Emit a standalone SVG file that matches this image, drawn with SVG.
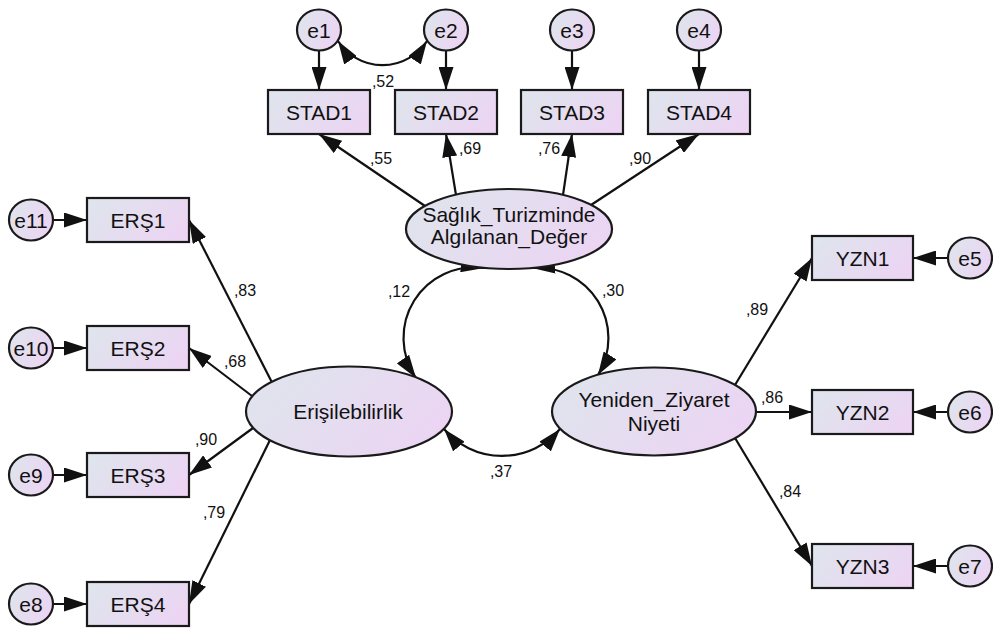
<svg xmlns="http://www.w3.org/2000/svg" width="993" height="631" viewBox="0 0 993 631">
<defs>
<linearGradient id="g" x1="0" y1="0.3" x2="1" y2="0.7">
<stop offset="0" stop-color="#dfe4ed"/>
<stop offset="1" stop-color="#ecd4f3"/>
</linearGradient>
<marker id="ah" markerUnits="userSpaceOnUse" markerWidth="23" markerHeight="15" refX="23" refY="7.5" orient="auto-start-reverse" viewBox="0 0 23 15">
<path d="M0,0 L23,7.5 L0,15 Z" fill="#111"/>
</marker>
<style>
.n{fill:url(#g);stroke:#1a1a1a;stroke-width:2.2}
.t{font-family:"Liberation Sans",Arial,sans-serif;font-size:21px;fill:#111;text-anchor:middle}
.l{font-family:"Liberation Sans",Arial,sans-serif;font-size:16px;fill:#111;text-anchor:middle}
.c{fill:none;stroke:#111;stroke-width:2.2}
.a{marker-end:url(#ah)}
.b{marker-start:url(#ah);marker-end:url(#ah)}
</style>
</defs>

<g id="connectors">
<path class="c a" d="M319,50 L319,90"/>
<path class="c a" d="M446,50 L446,90"/>
<path class="c a" d="M572,50 L572,90"/>
<path class="c a" d="M699,50 L699,90"/>
<path class="c b" d="M338,41 A53,53 0 0 0 427,41"/>
<path class="c a" d="M425,206 L319,134"/>
<path class="c a" d="M456,195 L446,134"/>
<path class="c a" d="M563,195 L572,134"/>
<path class="c a" d="M591,205 L699,134"/>
<path class="c a" d="M53,220 L87,220"/>
<path class="c a" d="M53,348 L87,348"/>
<path class="c a" d="M53,475 L87,475"/>
<path class="c a" d="M53,604 L87,604"/>
<path class="c a" d="M271.5,381.5 L189,220"/>
<path class="c a" d="M252,396 L189,348"/>
<path class="c a" d="M253,428 L189,475"/>
<path class="c a" d="M270,440 L189,604"/>
<path class="c a" d="M735,385 L812,258"/>
<path class="c a" d="M756,412 L812,412"/>
<path class="c a" d="M735,438 L812,566"/>
<path class="c a" d="M948,258 L913,258"/>
<path class="c a" d="M948,412 L913,412"/>
<path class="c a" d="M948,566 L913,566"/>
<path class="c b" d="M484,268 A70.6,70.6 0 0 0 416,378"/>
<path class="c b" d="M532,268 A70.4,70.4 0 0 1 598,375"/>
<path class="c b" d="M444,429 A76,76 0 0 0 560,429"/>
<text class="l" x="383" y="87">,52</text>
<text class="l" x="381" y="164">,55</text>
<text class="l" x="470" y="154">,69</text>
<text class="l" x="549" y="154">,76</text>
<text class="l" x="640" y="164">,90</text>
<text class="l" x="245" y="296">,83</text>
<text class="l" x="235" y="367">,68</text>
<text class="l" x="206" y="445">,90</text>
<text class="l" x="214" y="518">,79</text>
<text class="l" x="757" y="315">,89</text>
<text class="l" x="772" y="403">,86</text>
<text class="l" x="790" y="497">,84</text>
<text class="l" x="399" y="297">,12</text>
<text class="l" x="613" y="296">,30</text>
<text class="l" x="501" y="477">,37</text>
</g>

<g id="e1"><ellipse class="n" cx="319" cy="30" rx="22" ry="20.5"/><text class="t" x="319" y="37.5">e1</text></g>
<g id="e2"><ellipse class="n" cx="446" cy="30" rx="22" ry="20.5"/><text class="t" x="446" y="37.5">e2</text></g>
<g id="e3"><ellipse class="n" cx="572" cy="30" rx="22" ry="20.5"/><text class="t" x="572" y="37.5">e3</text></g>
<g id="e4"><ellipse class="n" cx="699" cy="30" rx="22" ry="20.5"/><text class="t" x="699" y="37.5">e4</text></g>

<g id="STAD1"><rect class="n" x="268" y="90" width="102" height="44"/><text class="t" x="319" y="119.5">STAD1</text></g>
<g id="STAD2"><rect class="n" x="395" y="90" width="102" height="44"/><text class="t" x="446" y="119.5">STAD2</text></g>
<g id="STAD3"><rect class="n" x="521" y="90" width="102" height="44"/><text class="t" x="572" y="119.5">STAD3</text></g>
<g id="STAD4"><rect class="n" x="648" y="90" width="102" height="44"/><text class="t" x="699" y="119.5">STAD4</text></g>

<g id="SaglikTurizmi"><ellipse class="n" cx="509" cy="229" rx="103" ry="40"/><text class="t" x="509" y="221.5">Sağlık_Turizminde</text><text class="t" x="509" y="243.5">Algılanan_Değer</text></g>
<g id="Erisilebilirlik"><ellipse class="n" cx="349" cy="411.5" rx="103" ry="45"/><text class="t" x="348" y="418.5">Erişilebilirlik</text></g>
<g id="YenidenZiyaret"><ellipse class="n" cx="654" cy="411.5" rx="102" ry="44"/><text class="t" x="654" y="407">Yeniden_Ziyaret</text><text class="t" x="654" y="431">Niyeti</text></g>

<g id="ERS1"><rect class="n" x="87" y="198" width="102" height="44"/><text class="t" x="138" y="227.5">ERŞ1</text></g>
<g id="ERS2"><rect class="n" x="87" y="326" width="102" height="44"/><text class="t" x="138" y="355.5">ERŞ2</text></g>
<g id="ERS3"><rect class="n" x="87" y="453" width="102" height="44"/><text class="t" x="138" y="482.5">ERŞ3</text></g>
<g id="ERS4"><rect class="n" x="87" y="582" width="102" height="44"/><text class="t" x="138" y="611.5">ERŞ4</text></g>

<g id="e11"><ellipse class="n" cx="31" cy="220" rx="22" ry="20.5"/><text class="t" x="31" y="227.5">e11</text></g>
<g id="e10"><ellipse class="n" cx="31" cy="348" rx="22" ry="20.5"/><text class="t" x="31" y="355.5">e10</text></g>
<g id="e9"><ellipse class="n" cx="31" cy="475" rx="22" ry="20.5"/><text class="t" x="31" y="482.5">e9</text></g>
<g id="e8"><ellipse class="n" cx="31" cy="604" rx="22" ry="20.5"/><text class="t" x="31" y="611.5">e8</text></g>

<g id="YZN1"><rect class="n" x="812" y="236" width="101" height="44"/><text class="t" x="862.5" y="265.5">YZN1</text></g>
<g id="YZN2"><rect class="n" x="812" y="390" width="101" height="44"/><text class="t" x="862.5" y="419.5">YZN2</text></g>
<g id="YZN3"><rect class="n" x="812" y="544" width="101" height="44"/><text class="t" x="862.5" y="573.5">YZN3</text></g>

<g id="e5"><ellipse class="n" cx="970" cy="258" rx="22" ry="20.5"/><text class="t" x="970" y="265.5">e5</text></g>
<g id="e6"><ellipse class="n" cx="970" cy="412" rx="22" ry="20.5"/><text class="t" x="970" y="419.5">e6</text></g>
<g id="e7"><ellipse class="n" cx="970" cy="566" rx="22" ry="20.5"/><text class="t" x="970" y="573.5">e7</text></g>
</svg>
